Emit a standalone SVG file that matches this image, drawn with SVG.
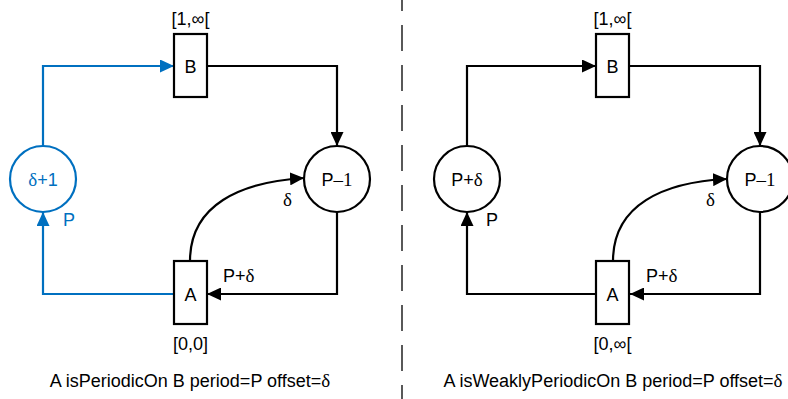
<svg xmlns="http://www.w3.org/2000/svg" width="788" height="399" viewBox="0 0 788 399">
<defs>
<marker id="ak" markerUnits="userSpaceOnUse" markerWidth="16" markerHeight="13" refX="14" refY="6.5" orient="auto"><path d="M0,0 L14,6.5 L0,13 Z" fill="#000"/></marker>
<marker id="ab" markerUnits="userSpaceOnUse" markerWidth="16" markerHeight="13" refX="14" refY="6.5" orient="auto"><path d="M0,0 L14,6.5 L0,13 Z" fill="#0070C0"/></marker>
</defs>
<style>
.t{font-family:"Liberation Sans",Arial,sans-serif;font-size:18px;fill:#000}
.s{font-family:"Liberation Serif","Times New Roman",serif;font-size:19px}
.n{fill:#fff;stroke:#000;stroke-width:2.2}
.nb{fill:#fff;stroke:#0070C0;stroke-width:2.2}
.e{fill:none;stroke:#000;stroke-width:2.2}
.eb{fill:none;stroke:#0070C0;stroke-width:2.2}
.blue{fill:#0070C0}
</style>
<rect width="788" height="399" fill="#fff"/>
<g id="connectors">
<path class="eb" d="M43,146 V66 H174" marker-end="url(#ab)"/>
<path class="e" d="M207,66 H337 V146" marker-end="url(#ak)"/>
<path class="e" d="M337,212 V294 H207" marker-end="url(#ak)"/>
<path class="eb" d="M174,294 H43 V212" marker-end="url(#ab)"/>
<path class="e" d="M190,261 C190,205 240,182 304,178" marker-end="url(#ak)"/>
<path class="e" d="M467,146 V66 H596" marker-end="url(#ak)"/>
<path class="e" d="M630,66 H760 V146" marker-end="url(#ak)"/>
<path class="e" d="M760,212 V294 H630" marker-end="url(#ak)"/>
<path class="e" d="M596,294 H467 V212" marker-end="url(#ak)"/>
<path class="e" d="M613,261 C613,205 663,182 727,179" marker-end="url(#ak)"/>
<line x1="402" y1="0" x2="402" y2="399" stroke="#000" stroke-width="1.3" stroke-dasharray="26 14" stroke-dashoffset="15"/>
</g>
<g id="B1"><rect class="n" x="174" y="34" width="33" height="63"/><text class="t" x="190.5" y="72.5" text-anchor="middle">B</text><text class="t" x="190.5" y="25" text-anchor="middle">[1,∞[</text></g>
<g id="A1"><rect class="n" x="174" y="261" width="33" height="63"/><text class="t" x="190.5" y="300.5" text-anchor="middle">A</text><text class="t" x="190.5" y="350" text-anchor="middle">[0,0]</text></g>
<g id="C1"><circle class="nb" cx="43" cy="179" r="33"/><text class="t blue" x="43" y="185.5" text-anchor="middle"><tspan class="s">δ</tspan>+1</text></g>
<g id="D1"><circle class="n" cx="337" cy="179" r="33"/><text class="t" x="337" y="185.5" text-anchor="middle">P<tspan class="s">–1</tspan></text></g>
<g id="B2"><rect class="n" x="596" y="34" width="33" height="63"/><text class="t" x="612.5" y="72.5" text-anchor="middle">B</text><text class="t" x="612.5" y="25" text-anchor="middle">[1,∞[</text></g>
<g id="A2"><rect class="n" x="596" y="261" width="33" height="63"/><text class="t" x="612.5" y="300.5" text-anchor="middle">A</text><text class="t" x="612.5" y="350" text-anchor="middle">[0,∞[</text></g>
<g id="C2"><circle class="n" cx="467" cy="179" r="33"/><text class="t" x="467" y="185.5" text-anchor="middle">P+<tspan class="s">δ</tspan></text></g>
<g id="D2"><circle class="n" cx="760" cy="179" r="33"/><text class="t" x="760" y="185.5" text-anchor="middle">P<tspan class="s">–1</tspan></text></g>
<g id="labels">
<text class="t blue" x="63" y="226">P</text>
<text class="t s" x="283" y="206">δ</text>
<text class="t" x="223" y="282">P+<tspan class="s">δ</tspan></text>
<text class="t" x="486" y="226">P</text>
<text class="t s" x="706" y="206">δ</text>
<text class="t" x="646" y="282">P+<tspan class="s">δ</tspan></text>
<text class="t" x="190" y="387" text-anchor="middle">A isPeriodicOn B period=P offset=<tspan class="s">δ</tspan></text>
<text class="t" x="613" y="387" text-anchor="middle">A isWeaklyPeriodicOn B period=P offset=<tspan class="s">δ</tspan></text>
</g>
</svg>
